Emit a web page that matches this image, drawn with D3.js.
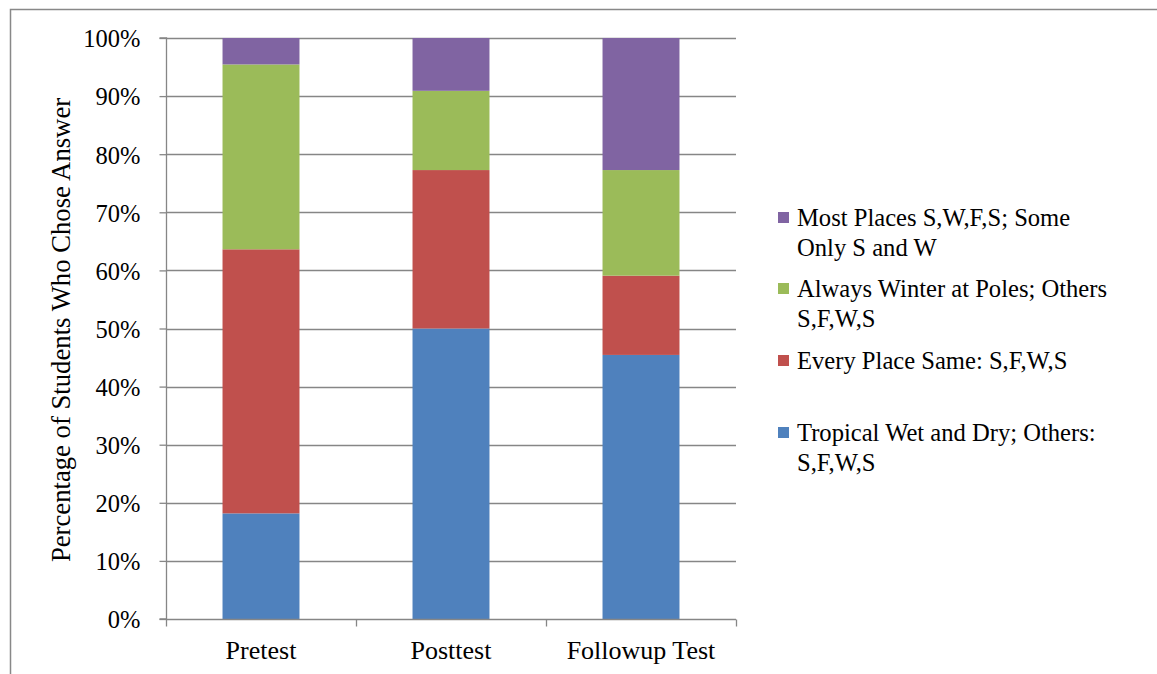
<!DOCTYPE html>
<html><head><meta charset="utf-8">
<script src="https://cdn.jsdelivr.net/npm/d3@7"></script>
<style>body{margin:0;background:#fff}svg{display:block}</style>
</head><body>
<svg id="c" width="1157" height="674"></svg>
<script>
const categories = ["Pretest", "Posttest", "Followup Test"];
const seriesNames = ["Tropical Wet and Dry; Others: S,F,W,S", "Every Place Same: S,F,W,S", "Always Winter at Poles; Others S,F,W,S", "Most Places S,W,F,S; Some Only S and W"];
const tropical = [0.1818, 0.5000, 0.4545];
const everyPlace = [0.4545, 0.2727, 0.1364];
const alwaysWinter = [0.3182, 0.1364, 0.1818];
const mostPlaces = [0.0455, 0.0909, 0.2273];
const colors = ["#4F81BD", "#C0504D", "#9BBB59", "#8064A2"];
const yTicks = [0,0.1,0.2,0.3,0.4,0.5,0.6,0.7,0.8,0.9,1.0];
const legendLines = [["Most Places S,W,F,S; Some", "Only S and W"], ["Always Winter at Poles; Others", "S,F,W,S"], ["Every Place Same: S,F,W,S"], ["Tropical Wet and Dry; Others:", "S,F,W,S"]];

const FONT = "Liberation Serif";
const svg = d3.select("#c");
svg.append("path").attr("d","M10.5,674 L10.5,9.5 L1157,9.5").attr("fill","none").attr("stroke","#888").attr("stroke-width",1.5);

const L=166, R=736, T=38, B=619;
const x = d3.scaleBand().domain(categories).range([L,R]).paddingInner(0.595).paddingOuter(0.2975);
const y = d3.scaleLinear().domain([0,1]).range([B,T]);

svg.append("g").selectAll("line").data(yTicks.filter(d=>d>0)).join("line")
  .attr("x1",L).attr("x2",R).attr("y1",d=>Math.round(y(d))+0.5).attr("y2",d=>Math.round(y(d))+0.5)
  .attr("stroke","#868686").attr("stroke-width",1.3);

const data = categories.map((c,i)=>({cat:c, s0:tropical[i], s1:everyPlace[i], s2:alwaysWinter[i], s3:mostPlaces[i]}));
const stack = d3.stack().keys(["s0","s1","s2","s3"])(data);
svg.append("g").selectAll("g").data(stack).join("g").attr("fill",(d,i)=>colors[i])
  .selectAll("rect").data(d=>d).join("rect")
  .attr("x",d=>x(d.data.cat)).attr("width",x.bandwidth())
  .attr("y",d=>y(d[1])).attr("height",d=>y(d[0])-y(d[1]));

const ya = svg.append("g").attr("transform",`translate(${L+0.5},0)`)
  .call(d3.axisLeft(y).tickValues(yTicks).tickFormat(d3.format(".0%")).tickSize(7).tickPadding(19));
ya.attr("font-family",FONT).attr("font-size",24.5);
ya.select(".domain").attr("stroke","#868686").attr("stroke-width",1.3).attr("d",`M-7,${y(1)}H0V${y(0)}H-7`);
ya.selectAll(".tick line").attr("stroke","#868686").attr("stroke-width",1.3);
ya.selectAll(".tick text").attr("font-family",FONT).attr("font-size",24.5).attr("fill","#000").attr("dy","0.36em").attr("x",-26);

const xa = svg.append("g").attr("transform",`translate(0,${B+0.5})`);
xa.append("line").attr("x1",L).attr("x2",R).attr("stroke","#868686").attr("stroke-width",1.3);
xa.selectAll(".tk").data(d3.range(categories.length+1)).join("line").attr("class","tk")
  .attr("x1",i=>Math.round(L+i*x.step())+0.5).attr("x2",i=>Math.round(L+i*x.step())+0.5)
  .attr("y1",0).attr("y2",7).attr("stroke","#868686").attr("stroke-width",1.3);
xa.selectAll("text").data(categories).join("text")
  .attr("x",d=>x(d)+x.bandwidth()/2).attr("y",39).attr("text-anchor","middle")
  .attr("font-family",FONT).attr("font-size",26).text(d=>d);

svg.append("text").attr("transform","translate(70,330) rotate(-90)").attr("text-anchor","middle")
  .attr("font-family",FONT).attr("font-size",26.7).text("Percentage of Students Who Chose Answer");

const legY = [226, 297, 369, 441];
const lg = svg.append("g");
legendLines.forEach((lines,k)=>{
  const ci = 3-k;
  lg.append("rect").attr("x",778).attr("y",legY[k]-14).attr("width",11).attr("height",11).attr("fill",colors[ci]);
  lines.forEach((t,j)=>{
    lg.append("text").attr("x",797).attr("y",legY[k]+j*30)
      .attr("font-family",FONT).attr("font-size",24.6).text(t);
  });
});
</script>
</body></html>
